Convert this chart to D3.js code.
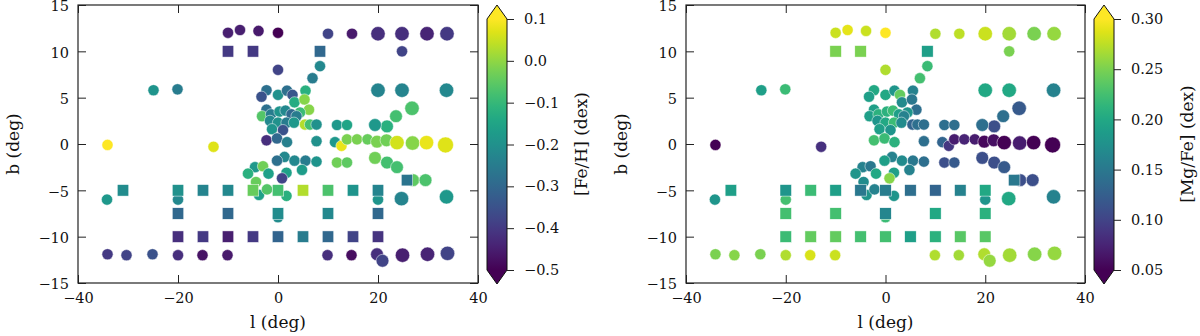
<!DOCTYPE html>
<html>
<head>
<meta charset="utf-8">
<script src="https://cdn.jsdelivr.net/npm/d3@7"></script>
<style>
body { margin: 0; background: #fff; }
text { font-family: "DejaVu Serif", serif; }
</style>
</head>
<body>
<svg width="1200" height="336"></svg>
<script>
// circles: outer fields, b~0 row, b~-2..-8, b~-12 row, central cluster
var circL = [-10, -7.6, -3.9, 0, 10, 14.8, 20, 24.8, 29.8, 33.8, 24.8, 0, 8.4, 6.9, 5.5, -24.9, -20.1, 20, 24.8, 33.7, 26.8, 23.6, 21.8, 19.4, 11.8, 13.8, -34.1, -12.9,
  7.7, 11.4, 12.7, 13.8, 15.8, 17.9, 19.8, 21.7, 23.8, 26.9, 29.7, 33.5,
  11.8, 13.8, 19.4, 21.8, 23.8, 27.0, 29.5, 24.7, 33.7, -34.2, -20, 0, 20,
  -34.1, -30.3, -25.1, -20, -15.1, -10.1, 9.9, 14.7, 19.8, 20.9, 24.9, 29.9, 33.9,
  -2.3, -3.3, 0.0, 1.8, 2.9, 3.3, 5.3, 6.2, 4.4, -2.3, -3.2, -1.4, 0.3, 1.5, 2.7, 3.7, -1.6, 0.0, 1.7, 3.2, 5.4, 6.4, 7.7, -1.2, 1.0,
  -2.3, -0.2, 1.8, 1.3, -0.2, 3.3, 5.5, 7.7, -4.6, -3.0, -6.0, -1.9, 1.7, 0.8, 4.8, -4.4, -3.8, 1.7, -2.2];
var circB = [12.0, 12.3, 12.2, 12.0, 11.9, 11.9, 11.9, 11.9, 11.9, 11.9, 10.0, 8.0, 8.4, 7.1, 5.75, 5.8, 5.9, 5.8, 5.8, 5.8, 3.85, 3.0, 1.9, 2.05, 2.05, 2.05, -0.1, -0.3,
  0.3, 0.2, -0.2, 0.5, 0.5, 0.5, 0.25, 0.4, 0.15, 0.1, 0.15, -0.1,
  -2.0, -2.0, -1.5, -2.0, -2.5, -3.9, -3.9, -5.9, -5.7, -6.0, -6.0, -7.9, -6.0,
  -11.9, -12.0, -11.9, -12.0, -12.0, -12.0, -12.0, -12.0, -11.9, -12.6, -12.0, -11.9, -11.8,
  5.8, 5.1, 5.3, 5.75, 5.3, 4.5, 4.8, 3.7, 3.4, 3.7, 3.0, 3.2, 3.5, 3.6, 3.2, 3.0, 2.5, 2.3, 2.3, 2.3, 2.1, 2.1, 2.1, 1.6, 1.5,
  0.4, 0.6, 0.2, -1.4, -1.8, -1.8, -1.8, -1.9, -2.5, -2.4, -3.2, -3.2, -3.1, -3.7, -2.8, -4.1, -5.5, -5.6, -4.9];
// marker weight (number of stars per field, binned 1..4)
var circW = [1, 1, 1, 1, 1, 1, 3, 3, 3, 3, 1, 1, 1, 1, 1, 1, 1, 3, 3, 3, 3, 2, 2, 2, 1, 1, 1, 1,
  1, 1, 1, 1, 1, 1, 2, 2, 3, 3, 3, 4,
  1, 1, 2, 2, 2, 2, 2, 3, 3, 1, 1, 1, 1,
  1, 1, 1, 1, 1, 1, 1, 1, 2, 2, 3, 3, 3,
  1, 1, 1, 1, 1, 1, 1, 1, 1, 1, 1, 1, 1, 1, 1, 1, 1, 1, 1, 1, 1, 1, 1, 1, 1,
  1, 1, 1, 1, 1, 1, 1, 1, 1, 1, 1, 1, 1, 1, 1, 1, 1, 1, 1];
var circFeH = [-0.45, -0.45, -0.46, -0.50, -0.38, -0.46, -0.42, -0.42, -0.44, -0.40, -0.38, -0.38, -0.22, -0.25, -0.12, -0.19, -0.25, -0.23, -0.23, -0.22, -0.07, -0.08, -0.12, -0.18, -0.18, -0.15, 0.10, 0.07,
  -0.20, -0.18, 0.08, -0.02, -0.02, -0.04, -0.02, -0.03, 0.06, -0.01, 0.08, 0.07,
  -0.03, -0.05, -0.03, -0.08, -0.08, -0.05, -0.07, -0.23, -0.18, -0.18, -0.22, -0.21, -0.19,
  -0.40, -0.38, -0.35, -0.42, -0.47, -0.46, -0.42, -0.48, -0.42, -0.38, -0.45, -0.44, -0.38,
  -0.28, -0.35, -0.20, -0.28, -0.34, -0.13, -0.01, -0.01, -0.09, -0.28, -0.06, -0.25, -0.19, -0.22, -0.30, -0.25, -0.22, -0.20, -0.25, -0.18, 0.03, -0.08, -0.20, -0.19, -0.35,
  -0.42, -0.30, -0.24, -0.22, -0.28, -0.22, -0.25, -0.19, -0.18, -0.03, -0.12, -0.16, -0.16, -0.38, -0.17, -0.04, -0.16, -0.12, -0.06];
var circMgFe = [0.28, 0.29, 0.28, 0.30, 0.27, 0.275, 0.28, 0.265, 0.25, 0.26, 0.25, 0.27, 0.22, 0.225, 0.16, 0.19, 0.22, 0.20, 0.20, 0.16, 0.12, 0.14, 0.11, 0.14, 0.14, 0.14, 0.05, 0.085,
  0.14, 0.13, 0.09, 0.07, 0.075, 0.07, 0.055, 0.06, 0.05, 0.07, 0.05, 0.05,
  0.11, 0.12, 0.11, 0.11, 0.12, 0.11, 0.11, 0.20, 0.16, 0.18, 0.225, 0.22, 0.18,
  0.25, 0.255, 0.25, 0.27, 0.285, 0.28, 0.27, 0.265, 0.27, 0.26, 0.265, 0.255, 0.26,
  0.20, 0.19, 0.20, 0.18, 0.24, 0.17, 0.15, 0.14, 0.18, 0.19, 0.19, 0.21, 0.21, 0.22, 0.19, 0.16, 0.18, 0.20, 0.22, 0.17, 0.13, 0.14, 0.14, 0.19, 0.18,
  0.225, 0.22, 0.21, 0.16, 0.19, 0.17, 0.15, 0.14, 0.16, 0.15, 0.18, 0.20, 0.19, 0.255, 0.16, 0.17, 0.18, 0.18, 0.16];

// squares: second survey grid
var sqL = [-10, -5, 8.4,
  -31, -20, -15, -10, -5, 0, 5, 10, 15, 20, 25.8,
  -20, -10, 0, 10, 20,
  -20, -15, -10, -5, 0, 5, 10, 15, 20];
var sqB = [10, 10, 10,
  -5, -5, -5, -5, -5, -5, -5, -5, -5, -5, -3.9,
  -7.5, -7.5, -7.5, -7.5, -7.5,
  -10, -10, -10, -10, -10, -10, -10, -10, -10];
var sqFeH = [-0.40, -0.40, -0.30,
  -0.21, -0.20, -0.23, -0.22, -0.04, -0.08, 0.03, -0.07, -0.19, -0.23, -0.27,
  -0.30, -0.30, -0.21, -0.22, -0.30,
  -0.42, -0.40, -0.45, -0.40, -0.31, -0.25, -0.30, -0.38, -0.41];
var sqMgFe = [0.25, 0.25, 0.19,
  0.19, 0.18, 0.22, 0.19, 0.15, 0.155, 0.14, 0.13, 0.16, 0.20, 0.15,
  0.225, 0.225, 0.165, 0.20, 0.21,
  0.22, 0.24, 0.24, 0.225, 0.225, 0.19, 0.21, 0.235, 0.235];

var xTicks = [-40, -20, 0, 20, 40];
var yTicks = [-15, -10, -5, 0, 5, 10, 15];
var fehTicks = [-0.5, -0.4, -0.3, -0.2, -0.1, 0.0, 0.1];
var mgTicks = [0.05, 0.10, 0.15, 0.20, 0.25, 0.30];

var circles = circL.map((l, i) => ({l: l, b: circB[i], w: circW[i], feh: circFeH[i], mg: circMgFe[i]}));
var squares = sqL.map((l, i) => ({l: l, b: sqB[i], feh: sqFeH[i], mg: sqMgFe[i]}));

var svg = d3.select("svg");
var axTop = 5, axBottom = 283;
var sq = 11.5;

var panels = [
  {x0: 78, x1: 478, cbx: 487, key: "feh", domain: [-0.5, 0.1], ticks: fehTicks, fmt: ".1f", label: "[Fe/H] (dex)", cbLabelX: 587, yLabelX: 19, id: "gL"},
  {x0: 686, x1: 1085, cbx: 1094, key: "mg", domain: [0.05, 0.30], ticks: mgTicks, fmt: ".2f", label: "[Mg/Fe] (dex)", cbLabelX: 1193, yLabelX: 627, id: "gR"}
];

var defs = svg.append("defs");

panels.forEach(drawPanel);

function drawPanel(p) {
  var x = d3.scaleLinear().domain([-40, 40]).range([p.x0, p.x1]);
  var y = d3.scaleLinear().domain([-15, 15]).range([axBottom, axTop]);
  var r = d3.scaleLinear().domain([1, 4]).range([5.6, 8]);
  var color = d3.scaleSequential(d3.interpolateViridis).domain(p.domain).clamp(true);

  var g = svg.append("g");

  g.selectAll("circle")
    .data(circles)
    .enter()
    .append("circle")
      .attr("cx", d => x(d.l))
      .attr("cy", d => y(d.b))
      .attr("r", d => r(d.w))
      .attr("fill", d => color(d[p.key]))
      .attr("stroke", "#fff")
      .attr("stroke-width", 0.5);

  g.selectAll("rect.sq")
    .data(squares)
    .enter()
    .append("rect")
      .attr("class", "sq")
      .attr("x", d => x(d.l) - sq / 2)
      .attr("y", d => y(d.b) - sq / 2)
      .attr("width", sq)
      .attr("height", sq)
      .attr("fill", d => color(d[p.key]))
      .attr("stroke", "#fff")
      .attr("stroke-width", 0.5);

  // axes, ticks pointing inwards
  var styleAxis = function(a) {
    a.select(".domain").remove();
    a.attr("font-size", 14.5).attr("font-family", "DejaVu Serif");
    a.selectAll("line").attr("stroke", "#222");
    a.selectAll("text").attr("fill", "#111");
  };
  g.append("g")
    .attr("transform", `translate(0,${axBottom})`)
    .call(d3.axisBottom(x).tickValues(xTicks).tickSizeInner(-8).tickSizeOuter(0).tickPadding(10))
    .call(styleAxis);
  g.append("g")
    .attr("transform", `translate(0,${axTop})`)
    .call(d3.axisTop(x).tickValues(xTicks).tickSizeInner(-8).tickSizeOuter(0).tickFormat(""))
    .call(styleAxis);
  g.append("g")
    .attr("transform", `translate(${p.x0},0)`)
    .call(d3.axisLeft(y).tickValues(yTicks).tickSizeInner(-8).tickSizeOuter(0).tickPadding(9))
    .call(styleAxis)
    .call(a => a.selectAll("text").attr("dy", "0.4em"));
  g.append("g")
    .attr("transform", `translate(${p.x1},0)`)
    .call(d3.axisRight(y).tickValues(yTicks).tickSizeInner(-8).tickSizeOuter(0).tickFormat(""))
    .call(styleAxis);

  g.append("rect")
    .attr("x", p.x0)
    .attr("y", axTop)
    .attr("width", p.x1 - p.x0)
    .attr("height", axBottom - axTop)
    .attr("fill", "none")
    .attr("stroke", "#222")
    .attr("stroke-width", 1.2);

  g.append("text")
    .attr("x", (p.x0 + p.x1) / 2)
    .attr("y", 328)
    .attr("text-anchor", "middle")
    .attr("font-size", 17)
    .attr("fill", "#111")
    .text("l (deg)");

  g.append("text")
    .attr("transform", `translate(${p.yLabelX},${(axTop + axBottom) / 2}) rotate(-90)`)
    .attr("text-anchor", "middle")
    .attr("font-size", 17)
    .attr("fill", "#111")
    .text("b (deg)");

  // colorbar with extensions at both ends
  var cb = d3.scaleLinear().domain(p.domain).range([270, 19]);
  var cbw = 20, ext = 14;
  var grad = defs.append("linearGradient")
    .attr("id", "grad" + p.id)
    .attr("x1", 0).attr("y1", 1).attr("x2", 0).attr("y2", 0);
  grad.selectAll("stop")
    .data(d3.range(0, 1.001, 0.05))
    .enter()
    .append("stop")
      .attr("offset", d => d)
      .attr("stop-color", d => d3.interpolateViridis(d));

  var y0 = cb.range()[0], y1 = cb.range()[1];
  g.append("rect")
    .attr("x", p.cbx)
    .attr("y", y1)
    .attr("width", cbw)
    .attr("height", y0 - y1)
    .attr("fill", `url(#grad${p.id})`);
  g.append("path")
    .attr("d", `M${p.cbx},${y1}L${p.cbx + cbw / 2},${y1 - ext}L${p.cbx + cbw},${y1}Z`)
    .attr("fill", d3.interpolateViridis(1));
  g.append("path")
    .attr("d", `M${p.cbx},${y0}L${p.cbx + cbw / 2},${y0 + ext}L${p.cbx + cbw},${y0}Z`)
    .attr("fill", d3.interpolateViridis(0));
  g.append("path")
    .attr("d", `M${p.cbx},${y1}L${p.cbx + cbw / 2},${y1 - ext}L${p.cbx + cbw},${y1}L${p.cbx + cbw},${y0}L${p.cbx + cbw / 2},${y0 + ext}L${p.cbx},${y0}Z`)
    .attr("fill", "none")
    .attr("stroke", "#111")
    .attr("stroke-width", 1);

  g.append("g")
    .attr("transform", `translate(${p.cbx + cbw},0)`)
    .call(d3.axisRight(cb).tickValues(p.ticks).tickSize(7).tickPadding(10).tickFormat(d3.format(p.fmt)))
    .call(styleAxis);

  g.append("text")
    .attr("transform", `translate(${p.cbLabelX},${(axTop + axBottom) / 2}) rotate(-90)`)
    .attr("text-anchor", "middle")
    .attr("font-size", 17)
    .attr("fill", "#111")
    .text(p.label);
}
</script>
</body>
</html>
